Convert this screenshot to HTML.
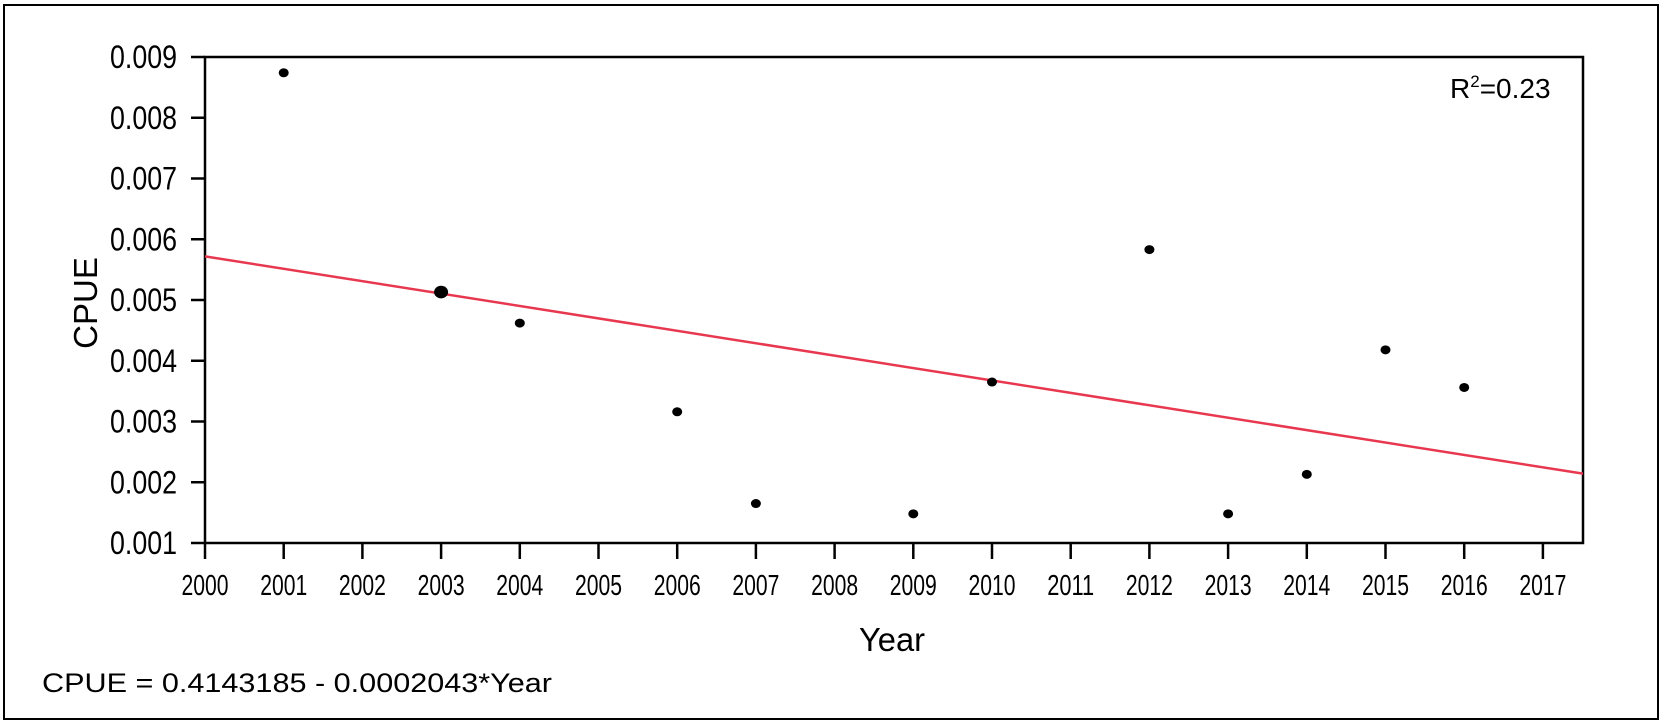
<!DOCTYPE html>
<html><head><meta charset="utf-8"><style>
html,body{margin:0;padding:0;background:#fff;}
svg{display:block;font-family:"Liberation Sans",Arial,sans-serif;}
</style></head><body>
<svg width="1665" height="725" viewBox="0 0 1665 725">
<rect x="4" y="5" width="1654" height="714" fill="none" stroke="#000" stroke-width="2"/>
<g id="axes"></g>
<g id="marks"></g>
<text x="1450" y="98" font-size="28">R<tspan font-size="17" dy="-11">2</tspan><tspan dy="11">=0.23</tspan></text>
<text x="892" y="651" font-size="33" text-anchor="middle" textLength="66" lengthAdjust="spacingAndGlyphs">Year</text>
<text x="0" y="0" font-size="33" text-anchor="middle" transform="translate(97,303) rotate(-90)">CPUE</text>
<text x="42" y="692" font-size="27" textLength="510" lengthAdjust="spacingAndGlyphs">CPUE = 0.4143185 - 0.0002043*Year</text>
</svg>
<script>
const years=[2001,2003,2004,2006,2007,2009,2010,2012,2013,2014,2015,2016];
const cpue=[0.00874,0.00513,0.00462,0.00316,0.00165,0.00148,0.00365,0.00583,0.00148,0.00213,0.00418,0.00356];
const dotSize=[5,7,5,5,5,5,5,5,5,5,5,5];
const yTicks=[0.001,0.002,0.003,0.004,0.005,0.006,0.007,0.008,0.009];
const xTicks=[2000,2001,2002,2003,2004,2005,2006,2007,2008,2009,2010,2011,2012,2013,2014,2015,2016,2017];
const intercept=0.4143185, slope=-0.0002043;
const X0=205,X1=1583,Y0=57,Y1=543,xMin=2000,xMax=2000+(1583-205)/78.7;
const xs=v=>X0+(v-2000)*78.7;
const ys=v=>Y1-(v-0.001)/0.008*(Y1-Y0);
const NS="http://www.w3.org/2000/svg";
function mk(t,a,p){const e=document.createElementNS(NS,t);for(const k in a)e.setAttribute(k,a[k]);p.appendChild(e);return e;}
const ax=document.getElementById('axes'),mk2=document.getElementById('marks');
const box=mk('rect',{x:X0,y:Y0,width:X1-X0,height:Y1-Y0,fill:'none',stroke:'#000','stroke-width':2.5},ax);


yTicks.forEach(v=>{const y=ys(v);
 const l=mk('line',{x1:X0-14,x2:X0,y1:y,y2:y,stroke:'#000','stroke-width':2.5},ax);
 
 
 const t=mk('text',{x:177,y:y+11,'font-size':32,'text-anchor':'end',textLength:67,lengthAdjust:'spacingAndGlyphs'},ax);t.textContent=v.toFixed(3);
 
 
});
xTicks.forEach(v=>{const x=xs(v);
 const l=mk('line',{x1:x,x2:x,y1:Y1,y2:Y1+16,stroke:'#000','stroke-width':2.5},ax);
 
 
 const t=mk('text',{x:x,y:595,'font-size':29,'text-anchor':'middle',textLength:47,lengthAdjust:'spacingAndGlyphs'},ax);t.textContent=v;
 
 
});
const rl=mk('line',{x1:xs(xMin),y1:ys(intercept+slope*xMin),x2:xs(xMax),y2:ys(intercept+slope*xMax),stroke:'#e8384f','stroke-width':2.5},mk2);


years.forEach((yr,i)=>{
 const c=mk('ellipse',{cx:xs(yr),cy:ys(cpue[i]),rx:dotSize[i],ry:dotSize[i]*0.9,fill:'#000'},mk2);
 
 
});
</script>
</body></html>
